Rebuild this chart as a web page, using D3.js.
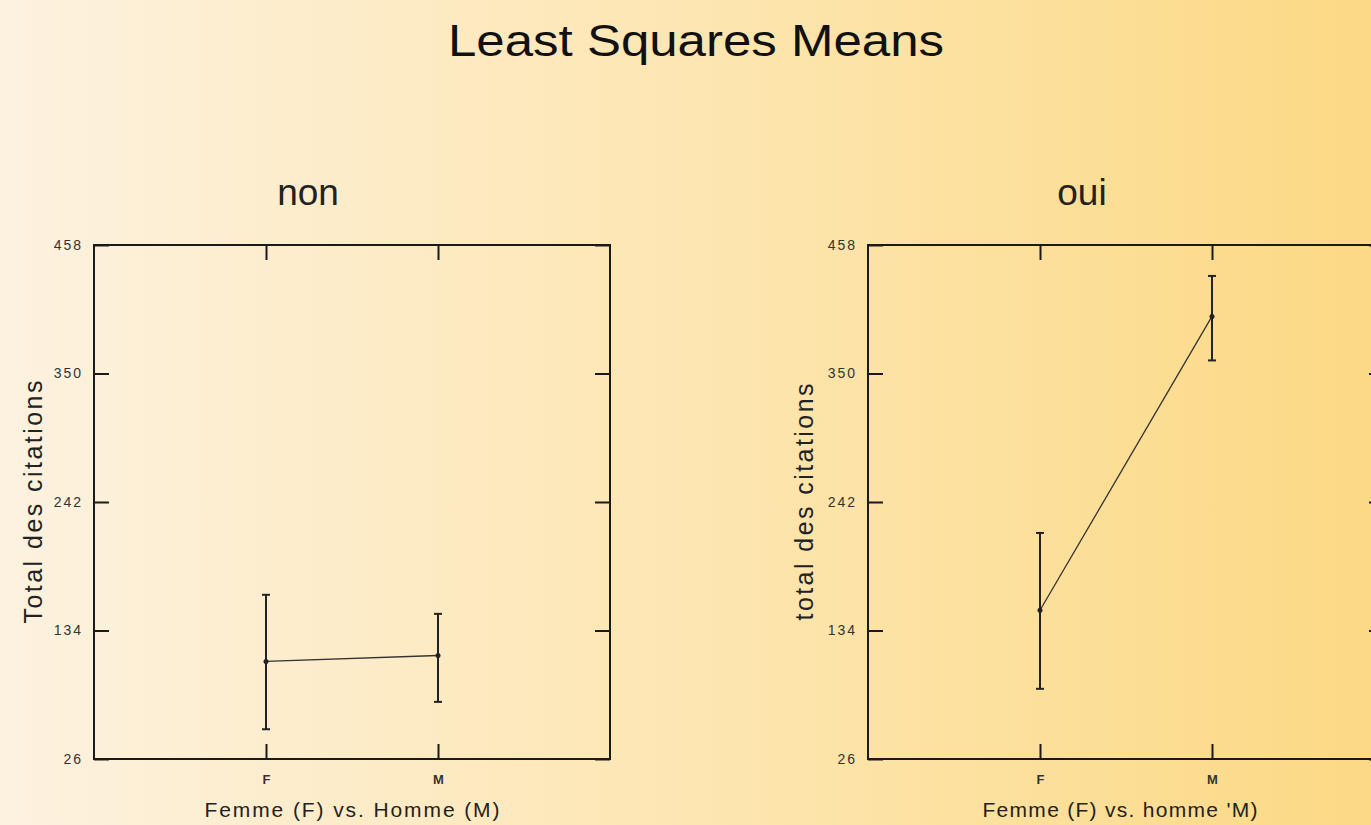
<!DOCTYPE html>
<html><head><meta charset="utf-8">
<script src="https://cdn.jsdelivr.net/npm/d3@7/dist/d3.min.js"></script>
<style>
body{margin:0;padding:0;overflow:hidden;}
svg{display:block;font-family:"Liberation Sans",Arial,sans-serif;}
</style></head>
<body>
<svg id="chart" width="1371" height="825"></svg>
<script>
// ---- data ----
const title = "Least Squares Means";
const categories = ["F", "M"];
const panelNames = ["non", "oui"];
const yTickValues = [26, 134, 242, 350, 458];
const yTitles = ["Total des citations", "total des citations"];
const xTitles = ["Femme (F)  vs. Homme (M)", "Femme (F) vs. homme 'M)"];
const meansNon = [108, 113];
const lowerNon = [51, 74];
const upperNon = [164, 148];
const meansOui = [151, 398];
const lowerOui = [85, 361];
const upperOui = [216, 432];

(function(){
const svg = d3.select("#chart");
const W = 1371, H = 825;

const defs = svg.append("defs");
const grad = defs.append("linearGradient").attr("id","bg").attr("x1","0").attr("x2","1").attr("y1","0").attr("y2","0");
grad.append("stop").attr("offset","0").attr("stop-color","#fdf2e0");
grad.append("stop").attr("offset","0.5").attr("stop-color","#fde6b2");
grad.append("stop").attr("offset","1").attr("stop-color","#fbd985");
svg.append("rect").attr("width",W).attr("height",H).attr("fill","url(#bg)");

svg.append("text").attr("x",696).attr("y",56).attr("text-anchor","middle")
  .attr("font-size",44).attr("fill","#111")
  .attr("textLength",496).attr("lengthAdjust","spacingAndGlyphs").text(title);

const panels = [
  {name: panelNames[0], left: 94, means: meansNon, lo: lowerNon, hi: upperNon, yt: yTitles[0], xt: xTitles[0], ytx: 42, xtc: 352, xtl: 295, yl: 243},
  {name: panelNames[1], left: 868, means: meansOui, lo: lowerOui, hi: upperOui, yt: yTitles[1], xt: xTitles[1], ytx: 813, xtc: 1120, xtl: 275, yl: 237}
];
const pw = 516, pTop = 245, pBottom = 759;

panels.forEach(p => {
  const x = d3.scalePoint().domain(categories).range([p.left, p.left + pw]).padding(1);
  const y = d3.scaleLinear().domain([26, 458]).range([pBottom, pTop]);
  const g = svg.append("g");

  g.append("text").attr("x", p.left + pw/2 - 44).attr("y", 205).attr("text-anchor","middle")
    .attr("font-size", 37).attr("fill","#222").text(p.name);

  g.append("rect").attr("x", p.left).attr("y", pTop).attr("width", pw).attr("height", pBottom - pTop)
    .attr("fill","none").attr("stroke","#1a1a1a").attr("stroke-width",2);

  const ax = g.append("g").attr("transform",`translate(${p.left},0)`)
    .call(d3.axisLeft(y).tickValues(yTickValues).tickSize(-15).tickPadding(11).tickFormat(d3.format("d")));
  ax.select(".domain").remove();
  ax.selectAll(".tick line").attr("stroke","#1a1a1a").attr("stroke-width",2);
  ax.selectAll(".tick text").attr("font-size",14).attr("letter-spacing",2).attr("fill","#333")
    .attr("font-family","Liberation Sans, Arial, sans-serif");

  const axR = g.append("g").attr("transform",`translate(${p.left+pw},0)`)
    .call(d3.axisRight(y).tickValues(yTickValues).tickSize(-15).tickFormat(""));
  axR.select(".domain").remove();
  axR.selectAll(".tick line").attr("stroke","#1a1a1a").attr("stroke-width",2);

  const axB = g.append("g").attr("transform",`translate(0,${pBottom})`)
    .call(d3.axisBottom(x).tickSize(-15).tickPadding(16));
  axB.select(".domain").remove();
  axB.selectAll(".tick line").attr("stroke","#1a1a1a").attr("stroke-width",2);
  axB.selectAll(".tick text").attr("font-size",13).attr("font-weight","bold").attr("fill","#333")
    .attr("font-family","Liberation Sans, Arial, sans-serif");

  const axT = g.append("g").attr("transform",`translate(0,${pTop})`)
    .call(d3.axisTop(x).tickSize(-15).tickFormat(""));
  axT.select(".domain").remove();
  axT.selectAll(".tick line").attr("stroke","#1a1a1a").attr("stroke-width",2);

  g.append("text").attr("transform",`translate(${p.ytx},${(pTop+pBottom)/2}) rotate(-90)`)
    .attr("text-anchor","middle").attr("font-size",25).attr("fill","#222")
    .attr("textLength",p.yl).attr("lengthAdjust","spacing").text(p.yt);
  g.append("text").attr("x", p.xtc).attr("y", 817).attr("text-anchor","middle")
    .attr("font-size",21).attr("fill","#222")
    .attr("textLength",p.xtl).attr("lengthAdjust","spacing").text(p.xt);

  const rows = categories.map((c,i) => ({c, m: p.means[i], lo: p.lo[i], hi: p.hi[i]}));
  g.append("path").datum(rows)
    .attr("d", d3.line().x(d => x(d.c)).y(d => y(d.m)))
    .attr("fill","none").attr("stroke","#333").attr("stroke-width",1.3);
  const eb = g.selectAll(".eb").data(rows).enter().append("g");
  eb.append("line").attr("x1", d => x(d.c)).attr("x2", d => x(d.c))
    .attr("y1", d => y(d.lo)).attr("y2", d => y(d.hi)).attr("stroke","#222").attr("stroke-width",2);
  eb.append("line").attr("x1", d => x(d.c)-4).attr("x2", d => x(d.c)+4)
    .attr("y1", d => y(d.lo)).attr("y2", d => y(d.lo)).attr("stroke","#222").attr("stroke-width",2);
  eb.append("line").attr("x1", d => x(d.c)-4).attr("x2", d => x(d.c)+4)
    .attr("y1", d => y(d.hi)).attr("y2", d => y(d.hi)).attr("stroke","#222").attr("stroke-width",2);
  eb.append("circle").attr("cx", d => x(d.c)).attr("cy", d => y(d.m)).attr("r",2.5).attr("fill","#222");
});
})();
</script>
</body></html>
